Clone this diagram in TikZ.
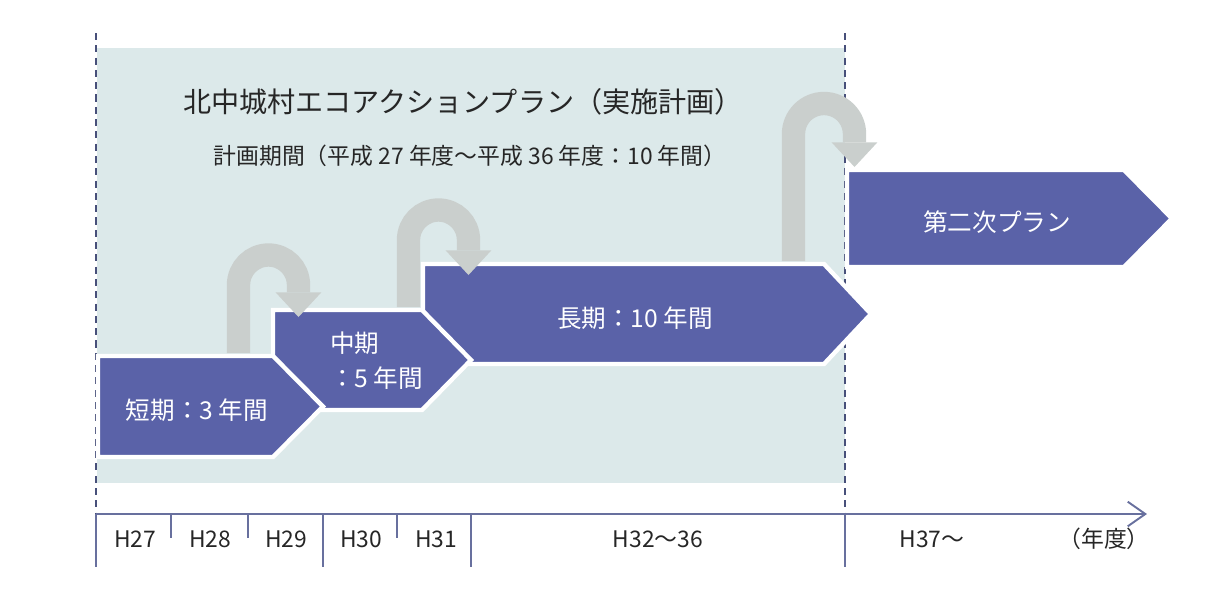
\documentclass[tikz,border=0pt]{standalone}
\usepackage{fontspec}
\setmainfont{Noto Sans CJK JP}
\usetikzlibrary{arrows.meta}

\definecolor{bgcyan}{RGB}{220,233,234}
\definecolor{planblue}{RGB}{90,98,168}
\definecolor{turngray}{RGB}{202,207,205}
\definecolor{axisblue}{RGB}{104,112,158}
\definecolor{dashblue}{RGB}{72,80,122}
\definecolor{inkgray}{RGB}{38,38,38}

\begin{document}
\begin{tikzpicture}[x=0.02cm, y=0.02cm,
  planbox/.style={fill=planblue, draw=white, line width=2.5pt},
  plantext/.style={text=white, font=\fontsize{14}{20}\selectfont},
  uturn/.style={turngray, line width=13.3pt, -{Triangle[width=26pt,length=14pt,line width=0pt]}},
  dashedge/.style={dashblue, line width=1.1pt, dash pattern=on 4pt off 3pt},
  yeartick/.style={axisblue, line width=1.1pt},
  yearlabel/.style={text=inkgray, font=\fontsize{13}{15}\selectfont}]
  \useasboundingbox (0,0) rectangle (1231,-599);
  % plan period
  \fill[bgcyan] (97,-48) rectangle (845,-483);
  \draw[dashedge] (96,-33) -- (96,-514);
  \draw[dashedge] (845,-33) -- (845,-514);
  \node[text=inkgray, font=\fontsize{16}{20}\selectfont] (title) at (463,-102) {北中城村エコアクションプラン（実施計画）};
  \node[text=inkgray, font=\fontsize{13}{18}\selectfont] (period) at (470,-156) {計画期間（平成 27 年度～平成 36 年度：10 年間）};
  % steps, the later one on top
  \draw[planbox] (847,-170) -- (1124,-170) -- (1172,-218.5) -- (1124,-267) -- (847,-267) -- cycle;
  \draw[planbox] (423,-264) -- (824,-264) -- (871,-314) -- (824,-364) -- (423,-364) -- cycle;
  \draw[planbox] (273,-310) -- (422,-310) -- (471,-360) -- (422,-410) -- (273,-410) -- cycle;
  \draw[planbox] (98,-356) -- (273,-356) -- (323,-406.5) -- (273,-457) -- (98,-457) -- cycle;
  \node[plantext] (niji) at (997,-222) {第二次プラン};
  \node[plantext] (choki) at (635,-318) {長期：10 年間};
  \node[plantext, align=left, anchor=west] (chuki) at (324,-361) {中期\\：5 年間};
  \node[plantext] (tanki) at (197,-410) {短期：3 年間};
  % u-turns from one step to the next
  \coordinate (u1a) at (238.5,-353);
  \coordinate (u1b) at (298.5,-317);
  \coordinate (u2a) at (408.5,-307);
  \coordinate (u2b) at (468.5,-275);
  \coordinate (u3a) at (793.5,-261);
  \coordinate (u3b) at (854.5,-167);
  \draw[uturn] (u1a) -- ++(0,68) arc[start angle=180, end angle=0, radius=0.6cm] -- (u1b);
  \draw[uturn] (u2a) -- ++(0,67) arc[start angle=180, end angle=0, radius=0.6cm] -- (u2b);
  \draw[uturn] (u3a) -- ++(0,127) arc[start angle=180, end angle=0, radius=0.61cm] -- (u3b);
  % years
  \coordinate (axstart) at (96,-514);
  \coordinate (axend) at (1147,-514);
  \draw[yeartick, -{Straight Barb[length=10pt,width=14pt]}] (axstart) -- (axend);
  \foreach \x in {96,323,471,845}
    \draw[yeartick] (\x,-514) -- (\x,-567);
  \foreach \x in {171,248,397}
    \draw[yeartick] (\x,-514) -- (\x,-538);
  \foreach \x/\yr [count=\i] in {135/H27, 210/H28, 286/H29, 361/H30, 436/H31, 658/H32～36, 932/H37～, 1104/（年度）}
    \node[yearlabel] (yr\i) at (\x,-539) {\yr};
\end{tikzpicture}
\end{document}
